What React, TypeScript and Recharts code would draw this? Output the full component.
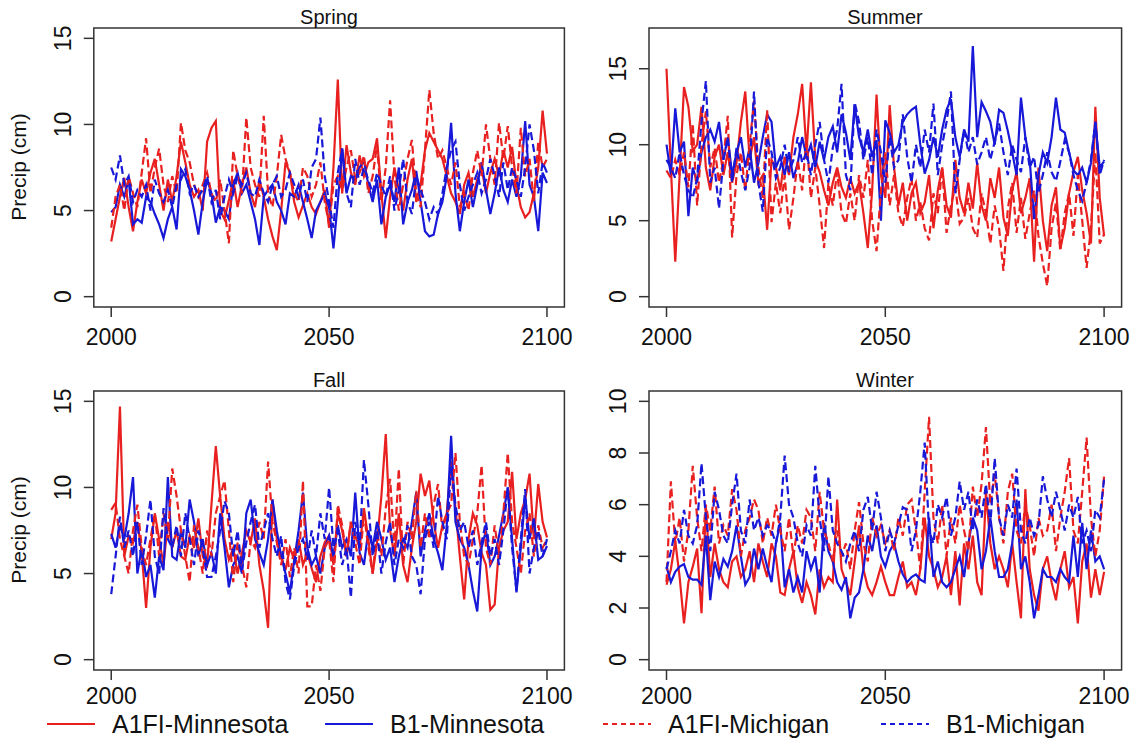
import React from "react";
import { LineChart, Line, XAxis, YAxis, ReferenceArea } from "recharts";

// yearly seasonal precipitation, 2000-2100
const years = Array.from({ length: 101 }, (_, i) => 2000 + i);
const yearTicks = [2000, 2050, 2100];
const ticks15 = [0, 5, 10, 15];
const ticks10 = [0, 2, 4, 6, 8, 10];

const springA1fiMn = [
  3.2, 4.5, 5.8, 6.9, 5.2, 3.8, 5.5, 6.8, 6.0, 7.2,
  8.0, 6.5, 5.0, 6.8, 5.5, 7.0, 9.0, 7.8, 6.5, 5.8,
  6.2, 5.0, 9.0, 9.8, 10.2, 5.0, 4.5, 5.6, 6.8, 5.2,
  6.5, 7.5, 6.0, 5.2, 6.8, 5.8, 4.5, 3.5, 2.7, 5.0,
  7.8, 7.2, 5.5, 4.6, 5.3, 6.0, 5.2, 4.8, 5.5, 6.2,
  4.0, 7.5, 12.6, 6.0, 8.8, 7.2, 6.5, 8.2, 7.0, 7.8,
  8.0, 9.2, 6.0, 3.4, 5.8, 7.5, 6.2, 5.0, 6.8, 8.0,
  5.5, 6.5, 8.5, 9.5, 9.0, 8.5, 8.0, 7.0, 6.0, 5.5,
  4.8, 6.5, 7.2, 5.8, 6.8, 7.5, 6.0, 7.2, 8.0, 7.0,
  8.5, 7.5, 8.7, 6.5, 5.2, 4.6, 4.9, 6.0, 7.5, 10.8,
  8.3,
];
const springB1Mn = [
  4.9, 5.2, 6.5, 5.8, 6.8, 4.2, 4.5, 4.3, 5.8, 5.5,
  4.8, 4.2, 3.4, 4.5, 5.2, 3.9, 7.4, 7.0, 6.2, 5.0,
  3.6, 5.5, 6.8, 6.0, 4.3, 5.2, 5.0, 4.5, 6.5, 7.2,
  6.0, 6.5, 5.5, 4.5, 3.0, 5.8, 6.2, 6.5, 5.5, 5.0,
  4.2, 6.0, 5.8, 6.5, 5.5, 4.5, 3.4, 5.0, 5.5, 6.0,
  5.2, 2.8, 5.5, 8.6, 6.0, 7.0, 6.8, 7.5, 7.9, 6.5,
  5.5, 6.8, 4.2, 5.8, 6.5, 5.5, 7.5, 4.2, 5.5, 6.2,
  7.3, 5.5, 3.8, 3.5, 3.6, 4.8, 5.5, 7.0, 10.1, 6.0,
  3.8, 5.5, 6.8, 5.2, 6.5, 7.8, 6.2, 4.8, 6.0, 7.5,
  6.2, 5.5, 6.8, 5.8, 7.0, 10.2, 6.5, 5.8, 3.8, 7.2,
  6.6,
];
const springA1fiMi = [
  4.0, 5.8, 6.5, 5.0, 7.0, 6.0, 5.2, 7.2, 9.2, 6.0,
  7.5, 8.6, 6.5, 5.5, 7.0, 6.0, 10.1, 8.5, 7.8, 6.5,
  5.8, 6.5, 7.2, 6.0, 5.5, 6.8, 5.0, 3.1, 8.5, 7.0,
  6.0, 10.4, 7.5, 6.5, 5.8, 10.5, 6.0, 5.2, 7.0, 9.4,
  8.0, 7.2, 6.0, 5.5, 7.5, 7.0, 5.8, 6.5, 7.8, 5.5,
  4.2, 6.5, 7.0, 6.2, 7.5, 8.5, 6.8, 7.2, 8.2, 6.0,
  7.0, 8.8, 5.5, 7.5, 11.4, 7.0, 5.0, 6.5, 8.0, 9.1,
  6.0, 5.2, 8.5, 12.0, 9.5, 8.0, 8.5, 7.5, 6.5, 7.8,
  5.2, 6.0, 5.0, 7.2, 8.5, 7.0, 10.0, 8.0, 6.5, 10.1,
  8.0, 9.9, 7.5, 6.0, 9.8, 7.0, 8.0, 5.5, 9.0, 7.5,
  8.0,
];
const springB1Mi = [
  7.5, 6.8, 8.2, 6.5, 7.0, 5.5, 6.2, 5.8, 6.5, 5.0,
  6.8, 6.0, 5.5, 6.2, 5.2, 6.5, 6.8, 7.4, 6.0, 6.5,
  5.8, 6.2, 7.0, 5.5, 6.2, 4.5, 5.8, 6.8, 6.0, 7.0,
  6.5, 7.2, 6.0, 5.8, 6.8, 6.0, 5.5, 6.5, 7.0, 5.8,
  6.2, 7.2, 6.5, 5.8, 6.8, 5.5, 7.5, 8.0, 10.4, 7.0,
  5.5, 4.0, 7.2, 8.6, 6.0, 5.2, 8.0, 6.5, 7.5, 6.8,
  6.0, 7.2, 6.5, 5.8, 7.0, 5.0, 6.2, 8.0, 5.5, 4.8,
  7.0, 6.2, 5.5, 4.5, 5.2, 4.8, 6.0, 7.5, 8.5, 9.0,
  6.5, 5.0, 5.8, 6.5, 7.2, 6.0, 6.8, 8.0, 7.0, 5.8,
  7.8, 6.2, 7.5, 6.8, 5.8, 7.5, 10.0, 8.5, 6.0, 7.8,
  7.2,
];

const summerA1fiMn = [
  15.0, 8.5, 2.3, 8.0, 13.8, 12.5, 9.6, 10.0, 12.5, 8.5,
  7.0, 9.2, 10.0, 8.0, 9.5, 7.5, 8.8, 11.5, 13.5, 9.0,
  10.5, 7.5, 8.0, 4.4, 9.0, 8.5, 7.0, 9.2, 8.0, 10.5,
  12.0, 14.0, 9.5, 14.1, 9.0, 8.2, 7.0, 6.0, 7.5, 8.5,
  7.2, 6.5, 7.8, 6.8, 7.5, 5.5, 3.2, 7.0, 13.3, 8.0,
  6.5, 12.6, 8.5, 6.0, 7.5, 5.0, 6.8, 7.5, 5.5, 6.2,
  8.0, 4.5, 7.0, 8.5, 6.0, 5.2, 9.0, 6.5, 5.5, 7.5,
  5.8, 8.8, 6.0, 5.0, 7.8, 6.5, 8.5, 5.2, 4.0, 7.0,
  8.2, 5.5, 6.5, 7.8, 2.3, 8.5, 5.0, 3.0, 6.0, 7.2,
  3.2, 4.5, 6.8, 8.2, 9.2, 7.0, 5.5, 3.5, 12.5, 6.5,
  4.0,
];
const summerB1Mn = [
  10.0, 8.0, 12.4, 9.5, 10.2, 5.3, 8.5, 7.5, 9.5, 10.5,
  11.0, 10.2, 11.5, 9.0, 10.5, 8.0, 9.5, 10.5, 8.5, 9.8,
  7.5, 8.8, 10.5, 12.0, 11.5, 8.5, 9.2, 8.0, 9.5, 7.8,
  8.8, 10.5, 9.2, 10.0, 8.5, 10.2, 9.0, 10.5, 11.2, 9.5,
  12.0, 10.8, 9.0, 12.6, 10.5, 9.5, 11.0, 9.2, 10.3, 5.0,
  11.6, 10.8, 9.5, 10.0, 11.5, 12.0, 12.3, 12.5, 10.0, 8.1,
  9.0, 10.5, 9.2, 11.0, 12.3, 13.0, 10.5, 9.2, 11.0, 10.2,
  16.5, 10.5, 12.8, 12.2, 11.5, 10.0, 12.3, 12.1, 10.9, 9.5,
  8.0, 13.1, 10.5, 9.0, 5.1, 8.0, 9.5, 8.8, 10.5, 13.1,
  11.0, 10.8, 9.5, 8.3, 8.0, 8.5, 7.5, 8.8, 11.5, 8.5,
  8.9,
];
const summerA1fiMi = [
  8.3, 7.8, 9.0, 8.0, 9.5, 7.2, 11.4, 6.0, 10.0, 12.2,
  8.5, 9.8, 7.5, 9.0, 11.9, 3.9, 8.0, 9.5, 7.0, 10.0,
  12.9, 8.5, 6.5, 12.3, 4.9, 7.5, 5.5, 8.0, 4.4, 6.5,
  9.0, 7.0, 10.5, 6.5, 8.5, 6.0, 3.2, 7.5, 6.0, 8.2,
  5.5, 4.8, 6.8, 5.0, 8.0, 6.5, 9.0, 5.0, 3.0, 7.0,
  9.5, 6.0, 8.0, 5.5, 4.6, 6.5, 7.8, 5.0, 6.2, 4.5,
  3.7, 6.8, 5.5, 8.5, 4.2, 6.0, 7.2, 4.8, 5.2, 6.5,
  4.5, 3.9, 6.8, 5.5, 3.5, 6.0, 4.5, 1.7, 5.8, 7.5,
  4.2, 6.5, 3.8, 5.5, 7.0, 4.0, 2.2, 0.7, 4.5, 6.2,
  3.0, 5.5, 6.8, 4.0, 8.0, 5.0, 1.9, 4.5, 9.5, 3.5,
  4.1,
];
const summerB1Mi = [
  9.0, 8.5, 7.8, 9.5, 8.0, 7.0, 6.5, 7.8, 11.5, 14.2,
  7.5, 8.5, 5.8, 9.0, 10.5, 7.5, 9.8, 8.2, 7.0, 8.5,
  13.5, 7.5, 5.6, 10.5, 9.5, 7.8, 8.5, 10.0, 8.2, 9.0,
  10.5, 8.8, 9.5, 8.0, 10.0, 11.5, 9.0, 7.5, 9.8, 11.0,
  14.0, 8.0, 7.0, 12.8, 11.5, 9.0, 10.5, 8.0, 11.0, 9.5,
  7.5, 10.5, 8.5, 9.0, 12.0, 9.2, 7.5, 10.0, 8.5, 11.0,
  9.5, 12.7, 8.0, 10.0, 11.5, 13.5, 6.8, 9.0, 11.0, 9.5,
  10.5, 8.7, 9.5, 10.5, 9.0, 10.2, 11.4, 9.5, 8.0, 10.0,
  9.0, 8.2, 10.5, 8.5, 9.2, 6.8, 8.0, 9.5, 8.2, 7.6,
  8.9, 10.3, 9.5, 8.0, 7.0, 6.3, 7.5, 9.0, 11.5, 8.0,
  9.0,
];

const fallA1fiMn = [
  7.0, 8.5, 14.7, 6.0, 7.2, 6.8, 8.0, 6.2, 3.0, 6.5,
  8.5, 7.0, 5.5, 8.0, 6.5, 7.5, 6.0, 5.8, 7.2, 6.5,
  8.2, 6.0, 5.5, 9.0, 12.4, 9.5, 7.0, 5.8, 6.5, 5.0,
  6.2, 7.5, 6.8, 8.2, 5.5, 4.0, 1.85, 9.3, 7.0, 6.0,
  5.2, 6.5, 5.8, 7.0, 5.5, 6.2, 5.3, 4.5, 6.0, 6.8,
  7.2, 5.5, 8.5, 7.5, 6.0, 8.0, 7.2, 6.5, 8.8, 7.0,
  5.0, 6.8, 9.5, 13.1, 7.5, 6.0, 8.5, 5.5, 4.5, 6.5,
  8.0, 10.8, 9.5, 10.4, 8.0, 6.5, 7.8, 8.5, 11.5, 8.8,
  6.0, 3.5, 7.0, 8.5, 7.8, 6.2, 5.5, 2.9, 3.2, 6.5,
  7.5, 8.0, 10.9, 7.0, 8.5, 9.3, 10.8, 7.0, 10.2, 8.0,
  7.1,
];
const fallB1Mn = [
  7.3, 6.5, 7.8, 7.0, 8.5, 10.6, 5.0, 6.5, 4.8, 5.5,
  3.6, 6.0, 5.2, 10.6, 6.0, 5.8, 7.5, 6.5, 9.3, 8.0,
  6.0, 7.0, 5.5, 6.2, 5.0, 8.5, 6.5, 4.2, 5.5, 6.0,
  5.0, 8.5, 9.3, 7.0, 6.2, 5.5, 7.0, 9.3, 7.5, 6.0,
  5.0, 3.9, 5.8, 7.5, 9.7, 6.5, 5.5, 6.0, 5.0, 6.5,
  7.2, 6.0, 7.8, 6.5, 7.0, 6.0, 9.7, 6.2, 5.5, 7.5,
  6.5, 8.0, 7.0, 5.8, 6.5, 4.5, 6.0, 7.0, 6.5, 8.0,
  9.7, 6.0, 7.5, 8.5, 7.0, 6.2, 5.2, 7.8, 13.0, 8.0,
  7.0, 6.5, 5.5, 4.0, 2.8, 6.5, 7.5, 5.5, 6.0, 7.2,
  8.5, 10.0, 7.0, 3.9, 6.5, 9.5, 7.0, 8.2, 5.8, 6.0,
  6.6,
];
const fallA1fiMi = [
  8.7, 9.1, 7.0, 6.0, 5.0, 7.5, 9.0, 6.5, 5.5, 7.0,
  8.5, 6.0, 8.5, 7.0, 11.1, 9.5, 7.5, 6.0, 4.5, 7.8,
  6.5, 5.0, 7.5, 6.0, 8.5, 9.5, 10.4, 7.5, 4.5, 6.8,
  5.5, 4.2, 7.0, 6.5, 8.0, 7.0, 11.5, 8.0, 6.8, 5.5,
  7.0, 4.8, 6.5, 5.0, 10.4, 3.1, 3.1, 5.5, 4.0, 6.5,
  7.0, 4.5, 9.0, 7.8, 6.0, 8.0, 6.8, 5.5, 8.5, 6.5,
  5.0, 7.5, 6.0, 8.8, 10.5, 6.5, 11.1, 5.5, 8.0, 7.0,
  9.8, 6.5, 8.5, 7.0, 9.0, 10.2, 7.5, 8.5, 9.0, 12.0,
  8.0, 6.0, 5.5, 7.0, 8.5, 11.3, 6.5, 5.5, 7.8, 6.0,
  8.5, 12.0, 8.0, 6.5, 5.0, 7.5, 8.5, 6.0, 7.8, 6.5,
  7.0,
];
const fallB1Mi = [
  3.8, 6.0, 8.3, 6.5, 7.5, 6.0, 8.0, 5.5, 7.2, 9.3,
  6.0, 5.0, 8.8, 7.0, 6.5, 7.8, 6.0, 8.5, 7.0, 5.5,
  7.5, 6.5, 4.8, 4.8, 6.0, 7.5, 9.2, 8.5, 6.0, 7.5,
  5.2, 6.8, 8.0, 9.0, 6.5, 7.5, 8.5, 7.0, 6.0, 7.2,
  4.5, 3.5, 5.5, 6.5, 7.0, 5.8, 7.5, 6.0, 8.5, 7.0,
  10.0, 6.5, 7.5, 5.5, 6.5, 3.6, 8.0, 6.5, 11.6, 9.0,
  6.0, 7.5, 5.0, 6.8, 8.0, 5.5, 7.0, 6.5, 7.8, 6.0,
  5.5, 3.8, 7.0, 8.0, 6.5, 9.5, 8.0, 7.0, 11.2, 9.0,
  7.5, 8.0, 6.5, 7.5, 5.5, 6.8, 8.0, 6.0, 7.0, 5.5,
  7.5, 10.0, 6.5, 4.0, 7.0, 9.9, 5.0, 6.5, 7.5, 6.0,
  7.0,
];

const winterA1fiMn = [
  2.9, 3.5, 4.6, 3.2, 1.4, 3.0, 3.6, 4.3, 1.8, 5.9,
  3.2, 4.5, 3.5, 3.0, 2.8, 3.8, 4.0, 3.2, 3.5, 4.2,
  3.0, 4.5, 3.8, 3.2, 4.5, 4.0, 2.6, 2.5, 3.5, 4.2,
  2.8, 2.2, 3.0, 2.5, 1.75, 3.5, 2.8, 3.2, 3.0, 6.2,
  3.5, 3.0, 2.5, 3.8, 5.2, 3.5, 2.8, 2.5, 3.0, 3.6,
  3.0, 2.5, 2.5, 3.2, 3.8, 2.8, 3.0, 2.5, 3.5, 5.5,
  4.0, 3.5, 2.8, 3.2, 4.0, 2.5, 4.2, 2.1, 4.5, 3.5,
  4.8, 3.0, 2.5, 6.5, 4.5, 3.5, 4.0, 3.5, 2.8, 4.5,
  3.0, 1.6, 6.6, 3.5, 2.5, 1.9, 3.5, 4.0, 3.0, 2.3,
  3.5, 4.2, 2.8, 3.2, 1.4, 3.8, 4.5, 2.4, 3.5, 2.5,
  3.4,
];
const winterB1Mn = [
  3.6, 3.0, 3.4, 3.6, 3.7, 3.2, 3.1, 3.1, 2.9, 4.8,
  2.3, 3.8, 3.2, 3.9, 3.6, 4.2, 5.2, 4.0, 2.9, 3.2,
  4.3, 3.5, 4.3, 3.6, 3.0, 4.5, 5.3, 2.8, 3.5, 2.6,
  3.2, 2.6, 4.2, 3.5, 4.0, 2.6, 5.3, 4.2, 3.8, 3.0,
  2.7, 3.2, 1.6, 2.4, 2.6, 3.5, 4.8, 4.2, 5.2, 4.0,
  3.6, 4.2, 4.5, 3.8, 3.3, 3.0, 3.2, 3.3, 3.1, 3.0,
  5.5, 3.2, 3.8, 3.0, 2.8, 3.0, 3.5, 4.0, 3.2, 4.5,
  5.5, 5.0, 3.5, 4.2, 5.5, 4.2, 3.2, 3.2, 3.5, 4.5,
  6.2, 3.5, 4.0, 3.0, 1.6, 2.5, 3.5, 3.2, 3.2, 3.0,
  3.5, 3.2, 3.0, 4.8, 3.2, 5.3, 3.5, 5.0, 3.8, 4.0,
  3.5,
];
const winterA1fiMi = [
  3.0, 6.9, 4.5, 5.5, 3.8, 5.0, 7.5, 5.5, 4.2, 6.0,
  5.0, 6.7, 4.5, 5.2, 4.8, 6.6, 5.8, 4.0, 5.0, 5.5,
  6.2, 5.8, 4.5, 5.5, 4.8, 6.0, 5.0, 4.2, 5.5, 4.0,
  5.2, 4.5, 5.8, 5.5, 4.2, 6.5, 5.0, 4.5, 3.8, 5.0,
  4.0, 4.5, 3.5, 5.0, 6.1, 4.5, 3.8, 5.5, 4.8, 5.2,
  4.5, 5.0, 4.2, 5.5, 4.8, 6.0, 6.2, 5.0, 3.5, 6.5,
  9.4, 5.5, 4.5, 6.0, 4.0, 5.5, 4.5, 6.0, 5.0, 4.2,
  6.7, 5.5, 6.8, 9.0, 6.0, 7.2, 5.5, 4.5, 6.5, 7.2,
  5.0, 4.5, 6.0, 5.2, 4.0, 5.5, 4.8, 5.0, 6.0, 4.2,
  5.5, 6.5, 7.8, 5.0, 4.5, 6.5, 8.6, 5.5, 4.0, 5.0,
  7.1,
];
const winterB1Mi = [
  3.5, 4.2, 5.0, 4.5, 5.8, 4.8, 4.5, 5.2, 7.6, 5.5,
  4.2, 6.5, 5.8, 4.8, 4.5, 6.0, 7.2, 5.0, 4.5, 6.2,
  5.0, 5.5, 4.8, 5.2, 5.0, 4.5, 5.5, 7.9, 6.0, 5.5,
  4.5, 4.0, 5.2, 4.8, 7.5, 5.5, 4.2, 7.1, 5.0, 4.5,
  4.2, 3.8, 4.5, 5.0, 4.2, 5.8, 6.3, 5.0, 6.5, 5.5,
  4.2, 5.0, 4.5, 5.2, 5.9, 5.8, 4.2, 5.0, 6.5, 8.4,
  5.0, 4.5, 6.0, 5.5, 6.3, 4.8, 5.5, 6.9, 5.8, 6.5,
  5.0, 6.2, 5.5, 6.8, 5.2, 7.8, 5.5, 4.8, 6.0, 5.5,
  7.4, 5.0, 4.5, 5.5, 4.8, 5.2, 7.1, 6.2, 5.5, 6.5,
  5.8, 5.0, 6.0, 5.5, 6.3, 4.5, 5.0, 4.2, 5.8, 5.5,
  7.0,
];

const legendLabels = ["A1FI-Minnesota", "B1-Minnesota", "A1FI-Michigan", "B1-Michigan"];

const RED = "#e8201f";
const BLUE = "#1818d8";
const DASH = "8 4";
const FONT = "'Liberation Sans', Arial, sans-serif";
const INK = "#111";

const makeRows = (a1fiMn: number[], b1Mn: number[], a1fiMi: number[], b1Mi: number[]) =>
  years.map((year, i) => ({ year, a1fiMn: a1fiMn[i], b1Mn: b1Mn[i], a1fiMi: a1fiMi[i], b1Mi: b1Mi[i] }));

const makeXTick = (dy: number) => (props: any) => {
  const { x, y, payload } = props;
  return (
    <text x={x} y={y + dy} textAnchor="middle" fontSize={23} fill={INK} fontFamily={FONT}>
      {payload.value}
    </text>
  );
};

const YTick = (props: any) => {
  const { x, y, payload } = props;
  const bx = x - 13;
  return (
    <text x={bx} y={y} transform={`rotate(-90 ${bx} ${y})`} textAnchor="middle" fontSize={23} fill={INK} fontFamily={FONT}>
      {payload.value}
    </text>
  );
};

interface PanelProps {
  left: number;
  top: number;
  width: number;
  height: number;
  margin: { top: number; right: number; bottom: number; left: number };
  rows: ReturnType<typeof makeRows>;
  domain: [number, number];
  ticks: number[];
  labelDy: number;
}

const Panel: React.FC<PanelProps> = ({ left, top, width, height, margin, rows, domain, ticks, labelDy }) => {
  const XTick = makeXTick(labelDy);
  return (
    <div style={{ position: "absolute", left, top }}>
      <LineChart width={width} height={height} data={rows} margin={margin}>
        <XAxis
          dataKey="year"
          type="number"
          domain={[1996, 2104]}
          ticks={yearTicks}
          interval={0}
          allowDataOverflow
          height={43}
          tickSize={10}
          tickMargin={0}
          axisLine={false}
          tickLine={{ stroke: "#333", strokeWidth: 1.5 }}
          tick={(p: any) => <XTick {...p} />}
        />
        <YAxis
          type="number"
          domain={domain}
          ticks={ticks}
          interval={0}
          allowDataOverflow
          width={50}
          tickSize={10}
          tickMargin={0}
          axisLine={false}
          tickLine={{ stroke: "#333", strokeWidth: 1.5 }}
          tick={(p: any) => <YTick {...p} />}
        />
        <ReferenceArea
          x1={1996}
          x2={2104}
          y1={domain[0]}
          y2={domain[1]}
          fill="none"
          stroke="#333"
          strokeWidth={1.5}
          ifOverflow="visible"
        />
        <Line dataKey="a1fiMn" type="linear" stroke={RED} strokeWidth={2.2} dot={false} isAnimationActive={false} />
        <Line dataKey="b1Mn" type="linear" stroke={BLUE} strokeWidth={2.2} dot={false} isAnimationActive={false} />
        <Line dataKey="a1fiMi" type="linear" stroke={RED} strokeWidth={2.2} strokeDasharray={DASH} dot={false} isAnimationActive={false} />
        <Line dataKey="b1Mi" type="linear" stroke={BLUE} strokeWidth={2.2} strokeDasharray={DASH} dot={false} isAnimationActive={false} />
      </LineChart>
    </div>
  );
};

const leftMargin = { top: 28, right: 35.6, bottom: 0, left: 43.8 };
const rightMargin = { top: 28, right: 16.4, bottom: 0, left: 29 };

export default function App() {
  return (
    <div style={{ position: "absolute", left: 0, top: 0, width: 1138, height: 742, background: "#fff", fontFamily: FONT }}>
      <Panel left={0} top={0} width={600} height={350} margin={leftMargin} labelDy={28}
        rows={makeRows(springA1fiMn, springB1Mn, springA1fiMi, springB1Mi)} domain={[-0.6, 15.6]} ticks={ticks15} />
      <Panel left={570} top={0} width={568} height={350} margin={rightMargin} labelDy={28}
        rows={makeRows(summerA1fiMn, summerB1Mn, summerA1fiMi, summerB1Mi)} domain={[-0.68, 17.68]} ticks={ticks15} />
      <Panel left={0} top={360} width={600} height={360} margin={{ ...leftMargin, top: 31, bottom: 7 }} labelDy={24}
        rows={makeRows(fallA1fiMn, fallB1Mn, fallA1fiMi, fallB1Mi)} domain={[-0.6, 15.6]} ticks={ticks15} />
      <Panel left={570} top={360} width={568} height={360} margin={{ ...rightMargin, top: 31, bottom: 7 }} labelDy={24}
        rows={makeRows(winterA1fiMn, winterB1Mn, winterA1fiMi, winterB1Mi)} domain={[-0.4, 10.4]} ticks={ticks10} />

      <svg width={1138} height={742} style={{ position: "absolute", left: 0, top: 0, pointerEvents: "none" }}>
        <g fontFamily={FONT} fill={INK}>
          <text x={329} y={23.5} fontSize={20} textAnchor="middle">Spring</text>
          <text x={885} y={23.5} fontSize={20} textAnchor="middle">Summer</text>
          <text x={329} y={387} fontSize={20} textAnchor="middle">Fall</text>
          <text x={885} y={387} fontSize={20} textAnchor="middle">Winter</text>
          <text x={26} y={167} fontSize={21} textAnchor="middle" transform="rotate(-90 26 167)">Precip (cm)</text>
          <text x={26} y={530} fontSize={21} textAnchor="middle" transform="rotate(-90 26 530)">Precip (cm)</text>
        </g>
        {legendLabels.map((label, i) => {
          const x0 = 47 + 278 * i;
          const color = i % 2 === 0 ? RED : BLUE;
          return (
            <g key={label}>
              <line x1={x0} x2={x0 + 48} y1={724} y2={724} stroke={color} strokeWidth={2}
                strokeDasharray={i >= 2 ? "5 4" : undefined} />
              <text x={x0 + 65} y={733} fontSize={25} fill={INK} fontFamily={FONT}>{label}</text>
            </g>
          );
        })}
      </svg>
    </div>
  );
}
